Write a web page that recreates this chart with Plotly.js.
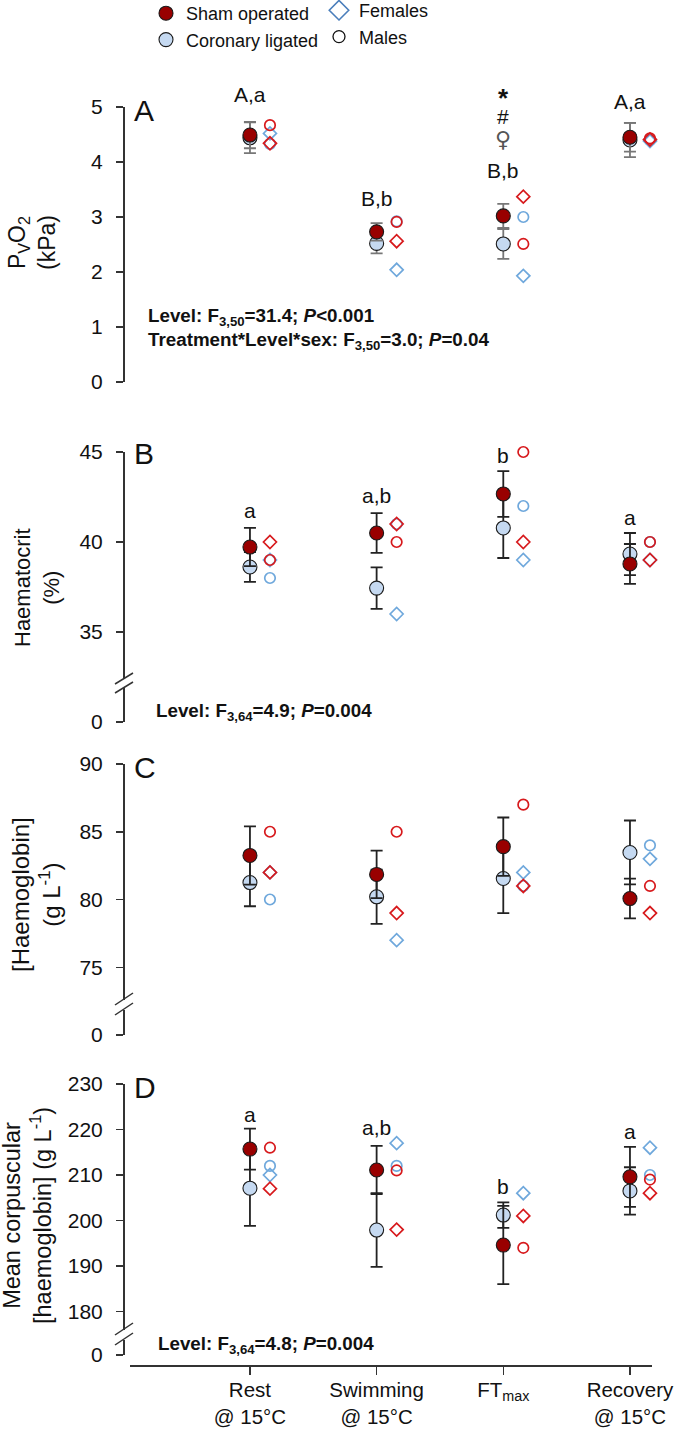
<!DOCTYPE html>
<html><head><meta charset="utf-8">
<script src="https://cdn.plot.ly/plotly-3.0.1.min.js"></script>
<style>html,body{margin:0;padding:0;background:#fff}</style>
</head><body><div id="chart" style="width:685px;height:1432px"></div>
<script>
// ---------- DATA ----------
const categories = ['Rest<br>@ 15°C', 'Swimming<br>@ 15°C', 'FT<sub>max</sub>', 'Recovery<br>@ 15°C'];

// Panel A: PvO2 (kPa)
const pvo2ShamMean = [4.49, 2.73, 3.02, 4.45];
const pvo2ShamSE   = [0.24, 0.16, 0.22, 0.26];
const pvo2CorMean  = [4.44, 2.52, 2.51, 4.40];
const pvo2CorSE    = [0.28, 0.18, 0.27, 0.31];
const pvo2ShamF    = [4.34, 2.56, 3.37, 4.41];
const pvo2ShamM    = [4.67, 2.91, 2.51, 4.43];
const pvo2CorF     = [4.52, 2.04, 1.93, 4.38];
const pvo2CorM     = [4.33, 2.92, 3.00, 4.40];
const pvo2Labels   = ['A,a', 'B,b', 'B,b', 'A,a'];

// Panel B: Haematocrit (%)
const hctShamMean = [39.72, 40.50, 42.67, 38.78];
const hctShamSE   = [1.06, 1.10, 1.27, 1.11];
const hctCorMean  = [38.61, 37.44, 40.78, 39.33];
const hctCorSE    = [0.83, 1.15, 1.67, 1.17];
const hctShamF    = [40, 41, 40, 39];
const hctShamM    = [39, 40, 45, 40];
const hctCorF     = [39, 36, 39, 39];
const hctCorM     = [38, 41, 42, 40];
const hctLabels   = ['a', 'a,b', 'b', 'a'];

// Panel C: [Haemoglobin] (g L-1)
const hbShamMean = [83.25, 81.85, 83.90, 80.07];
const hbShamSE   = [2.15, 1.75, 2.15, 1.47];
const hbCorMean  = [81.25, 80.20, 81.55, 83.47];
const hbCorSE    = [1.75, 2.00, 2.55, 2.36];
const hbShamF    = [82, 79, 81, 79];
const hbShamM    = [85, 85, 87, 81];
const hbCorF     = [82, 77, 82, 83];
const hbCorM     = [80, null, 81, 84];
const hbLabels   = ['', '', '', ''];

// Panel D: MCHC (g L-1)
const mchcShamMean = [215.7, 211.1, 194.6, 209.6];
const mchcShamSE   = [4.5, 5.3, 8.6, 6.6];
const mchcCorMean  = [207.1, 197.9, 201.2, 206.5];
const mchcCorSE    = [8.3, 8.1, 2.8, 5.2];
const mchcShamF    = [207, 198, 201, 206];
const mchcShamM    = [216, 211, 194, 209];
const mchcCorF     = [210, 217, 206, 216];
const mchcCorM     = [212, 212, null, 210];
const mchcLabels   = ['a', 'a,b', 'b', 'a'];

const yTicksA = [0, 1, 2, 3, 4, 5];
const yTicksB = [35, 40, 45];
const yTicksC = [75, 80, 85, 90];
const yTicksD = [180, 190, 200, 210, 220, 230];

// ---------- LAYOUT HELPERS ----------
const W = 685, H = 1432;
const px = v => v / W;
const py = v => 1 - v / H;
const dom = (top, bottom) => [py(bottom), py(top)];
const FONT = 'Liberation Sans, Arial, sans-serif';
const SHAM = '#990000', COR = '#C5D9F1';
const RED_OPEN = '#D7191C', BLUE_OPEN = '#6FA8DC';
const SEX_OFFSET = 0.158;
const xIdx = categories.map((c, i) => i);
const xSex = xIdx.map(v => v + SEX_OFFSET);

const panels = [
  {ax: 'y',  shamMean: pvo2ShamMean, shamSE: pvo2ShamSE, corMean: pvo2CorMean, corSE: pvo2CorSE,
   shamF: pvo2ShamF, shamM: pvo2ShamM, corF: pvo2CorF, corM: pvo2CorM, labels: pvo2Labels,
   errColor: '#777777', labelShift: [27, 25, 33, 21], legend: true},
  {ax: 'y2', shamMean: hctShamMean, shamSE: hctShamSE, corMean: hctCorMean, corSE: hctCorSE,
   shamF: hctShamF, shamM: hctShamM, corF: hctCorF, corM: hctCorM, labels: hctLabels,
   errColor: '#222222', labelShift: [17, 18, 16, 15]},
  {ax: 'y4', shamMean: hbShamMean, shamSE: hbShamSE, corMean: hbCorMean, corSE: hbCorSE,
   shamF: hbShamF, shamM: hbShamM, corF: hbCorF, corM: hbCorM, labels: hbLabels,
   errColor: '#222222', labelShift: [14, 14, 14, 14]},
  {ax: 'y6', shamMean: mchcShamMean, shamSE: mchcShamSE, corMean: mchcCorMean, corSE: mchcCorSE,
   shamF: mchcShamF, shamM: mchcShamM, corF: mchcCorF, corM: mchcCorM, labels: mchcLabels,
   errColor: '#222222', labelShift: [14, 18, 16, 15]}
];

const traces = [];
const annotations = [];
panels.forEach(p => {
  const sexTrace = (vals, sym, col) => ({
    type: 'scatter', mode: 'markers', x: xSex, y: vals, xaxis: 'x', yaxis: p.ax,
    marker: {symbol: sym, size: sym.startsWith('diamond') ? 10 : 10.5, color: col, line: {width: 1.7, color: col}},
    showlegend: false, hoverinfo: 'y', cliponaxis: false
  });
  traces.push(sexTrace(p.corM, 'circle-open', BLUE_OPEN));
  traces.push(sexTrace(p.corF, 'diamond-open', BLUE_OPEN));
  traces.push(sexTrace(p.shamM, 'circle-open', RED_OPEN));
  traces.push(sexTrace(p.shamF, 'diamond-open', RED_OPEN));
  traces.push({
    type: 'scatter', mode: 'markers', name: 'Coronary ligated', x: xIdx, y: p.corMean,
    xaxis: 'x', yaxis: p.ax, cliponaxis: false,
    error_y: {type: 'data', array: p.corSE, visible: true, color: p.errColor, thickness: 1.8, width: 6},
    marker: {symbol: 'circle', size: 14, color: COR, line: {color: '#1a1a1a', width: 1.1}},
    showlegend: !!p.legend, legend: 'legend', legendrank: 2
  });
  traces.push({
    type: 'scatter', mode: 'markers', name: 'Sham operated', x: xIdx, y: p.shamMean,
    xaxis: 'x', yaxis: p.ax, cliponaxis: false,
    error_y: {type: 'data', array: p.shamSE, visible: true, color: p.errColor, thickness: 1.8, width: 6},
    marker: {symbol: 'circle', size: 14, color: SHAM, line: {color: '#1a1a1a', width: 1.1}},
    showlegend: !!p.legend, legend: 'legend', legendrank: 1
  });
  // significance labels above error bars
  p.labels.forEach((t, i) => {
    if (!t) return;
    const top = Math.max(p.shamMean[i] + p.shamSE[i], p.corMean[i] + p.corSE[i]);
    annotations.push({x: xIdx[i], y: top, xref: 'x', yref: p.ax, text: t, showarrow: false,
      yanchor: 'middle', yshift: p.labelShift[i], font: {family: FONT, size: 21, color: '#111'}});
    if (p.ax === 'y' && i === 2) {
      annotations.push({x: xIdx[i], y: top, xref: 'x', yref: 'y', text: '♀', showarrow: false,
        yanchor: 'middle', yshift: 64, font: {family: 'DejaVu Sans', size: 22, color: '#555'}});
      annotations.push({x: xIdx[i], y: top, xref: 'x', yref: 'y', text: '#', showarrow: false,
        yanchor: 'middle', yshift: 87, font: {family: FONT, size: 21, color: '#111'}});
      annotations.push({x: xIdx[i], y: top, xref: 'x', yref: 'y', text: '<b>*</b>', showarrow: false,
        yanchor: 'middle', yshift: 106, font: {family: FONT, size: 26, color: '#111'}});
    }
  });
});

// placeholder traces for lower (broken) axis segments
['y3', 'y5', 'y7'].forEach(a => traces.push({type: 'scatter', mode: 'markers', x: [null], y: [null],
  xaxis: 'x', yaxis: a, showlegend: false, hoverinfo: 'skip'}));

// legend-only entries for sex symbols
traces.push({type: 'scatter', mode: 'markers', name: 'Females', x: [null], y: [null], xaxis: 'x', yaxis: 'y',
  marker: {symbol: 'diamond-open', size: 15, color: '#4A7EBB', line: {width: 1.6, color: '#4A7EBB'}},
  legend: 'legend2', showlegend: true, legendrank: 1});
traces.push({type: 'scatter', mode: 'markers', name: 'Males', x: [null], y: [null], xaxis: 'x', yaxis: 'y',
  marker: {symbol: 'circle-open', size: 12, color: '#111', line: {width: 1.3, color: '#111'}},
  legend: 'legend2', showlegend: true, legendrank: 2});

const yBase = (domain, range, tickvals) => ({
  domain: domain, range: range, anchor: 'free', position: px(123), side: 'left',
  showline: true, linecolor: '#333', linewidth: 1.5, ticks: 'outside', ticklen: 7, tickwidth: 1.5,
  tickcolor: '#333', showgrid: false, zeroline: false, tickmode: 'array', tickvals: tickvals,
  tickfont: {family: FONT, size: 21, color: '#111'}, ticklabelstandoff: 9, fixedrange: true
});

// titles, panel letters and statistics as text annotations
const titleSpec = [
  {text: 'P<sub>V</sub>O<sub>2</sub><br>(kPa)', x: 32, y: 242, size: 23},
  {text: 'Haematocrit<br>(%)', x: 37, y: 588, size: 22},
  {text: '[Haemoglobin]<br>(g L<sup>-1</sup>)', x: 36, y: 895, size: 24},
  {text: 'Mean corpuscular<br>[haemoglobin] (g L<sup>-1</sup>)', x: 27, y: 1216, size: 23.5}
];
titleSpec.forEach(t => annotations.push({xref: 'paper', yref: 'paper', x: px(t.x), y: py(t.y), text: t.text,
  textangle: -90, showarrow: false, xanchor: 'center', yanchor: 'middle',
  font: {family: FONT, size: t.size, color: '#111'}}));

const letterSpec = [{t: 'A', y: 110}, {t: 'B', y: 454}, {t: 'C', y: 767}, {t: 'D', y: 1087}];
letterSpec.forEach(l => annotations.push({xref: 'paper', yref: 'paper', x: px(132), y: py(l.y), text: l.t,
  showarrow: false, xanchor: 'left', yanchor: 'middle', font: {family: FONT, size: 30, color: '#111'}}));

const statSpec = [
  {t: '<b>Level: F<sub>3,50</sub>=31.4; <i>P</i>&lt;0.001<br>Treatment*Level*sex: F<sub>3,50</sub>=3.0; <i>P</i>=0.04</b>', x: 146, y: 329},
  {t: '<b>Level: F<sub>3,64</sub>=4.9; <i>P</i>=0.004</b>', x: 154, y: 712},
  {t: '<b>Level: F<sub>3,64</sub>=4.8; <i>P</i>=0.004</b>', x: 156, y: 1345}
];
statSpec.forEach(s => annotations.push({xref: 'paper', yref: 'paper', x: px(s.x), y: py(s.y), text: s.t,
  showarrow: false, xanchor: 'left', yanchor: 'middle', align: 'left',
  font: {family: FONT, size: 18.8, color: '#111'}}));

// axis break marks
const breaks = [[684, 673, 693, 682], [1005, 993, 1015, 1003], [1335, 1323, 1345, 1333]];
const shapes = [];
breaks.forEach(b => {
  shapes.push({type: 'line', xref: 'paper', yref: 'paper', x0: px(115), y0: py(b[0]), x1: px(133), y1: py(b[1]),
    line: {color: '#333', width: 1.5}});
  shapes.push({type: 'line', xref: 'paper', yref: 'paper', x0: px(115), y0: py(b[2]), x1: px(133), y1: py(b[3]),
    line: {color: '#333', width: 1.5}});
});

const layout = {
  width: W, height: H, margin: {l: 0, r: 0, t: 0, b: 0, autoexpand: false},
  paper_bgcolor: '#fff', plot_bgcolor: 'rgba(0,0,0,0)',
  font: {family: FONT, color: '#111'},
  showlegend: true,
  legend: {x: px(146), y: py(-5), xanchor: 'left', yanchor: 'top', font: {family: FONT, size: 18, color: '#111'},
    bgcolor: 'rgba(0,0,0,0)', itemclick: false, itemdoubleclick: false, traceorder: 'normal'},
  legend2: {x: px(319), y: py(-8), xanchor: 'left', yanchor: 'top', font: {family: FONT, size: 18, color: '#111'},
    bgcolor: 'rgba(0,0,0,0)', itemclick: false, itemdoubleclick: false, traceorder: 'normal'},
  xaxis: {domain: [px(130), px(652)], range: [-0.947, 3.174], anchor: 'free', position: py(1365),
    showline: true, linecolor: '#333', linewidth: 1.5, ticks: 'outside', ticklen: 8, tickwidth: 1.5,
    tickcolor: '#333', showgrid: false, zeroline: false, tickmode: 'array', tickvals: xIdx, ticktext: categories,
    tickfont: {family: FONT, size: 20.5, color: '#111'}, ticklabelstandoff: -2, fixedrange: true},
  yaxis:  yBase(dom(107, 382), [0, 5], yTicksA),
  yaxis2: yBase(dom(452, 679), [45 - (679 - 452) / 18, 45], yTicksB),
  yaxis3: yBase(dom(688, 722), [0, 1], [0]),
  yaxis4: yBase(dom(764, 1000), [90 - (1000 - 764) / 13.55, 90], yTicksC),
  yaxis5: yBase(dom(1010, 1035), [0, 1], [0]),
  yaxis6: yBase(dom(1084, 1330), [230 - (1330 - 1084) / 4.55, 230], yTicksD),
  yaxis7: yBase(dom(1340, 1355), [0, 1], [0]),
  annotations: annotations, shapes: shapes
};

Plotly.newPlot('chart', traces, layout, {displayModeBar: false, staticPlot: true});
</script></body></html>
